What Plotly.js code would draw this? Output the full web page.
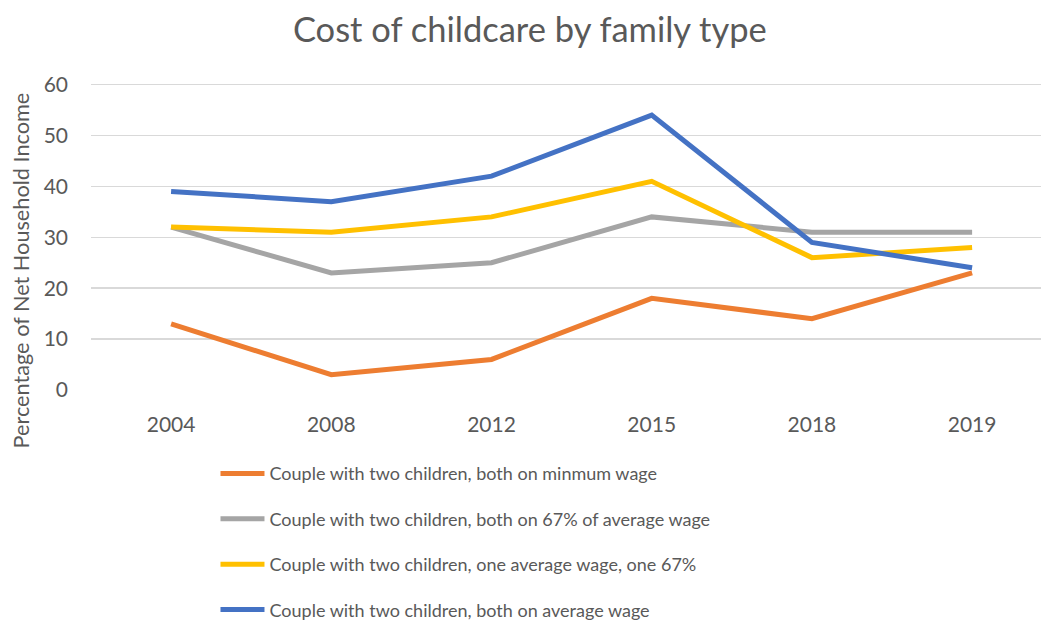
<!DOCTYPE html>
<html>
<head>
<meta charset="utf-8">
<script src="https://cdn.plot.ly/plotly-3.0.1.min.js"></script>
<style>html,body{margin:0;padding:0;background:#fff;}#chart{width:1041px;height:621px;}</style>
</head>
<body>
<div id="chart"></div>
<script>
const years = ['2004', '2008', '2012', '2015', '2018', '2019'];
const seriesNames = [
  'Couple with two children, both on minmum wage',
  'Couple with two children, both on 67% of average wage',
  'Couple with two children, one average wage, one 67%',
  'Couple with two children, both on average wage'
];
const minWage = [13, 3, 6, 18, 14, 23];
const both67 = [32, 23, 25, 34, 31, 31];
const oneAvgOne67 = [32, 31, 34, 41, 26, 28];
const bothAvg = [39, 37, 42, 54, 29, 24];
const yTicks = [0, 10, 20, 30, 40, 50, 60];

const colors = ['#ED7D31', '#A5A5A5', '#FFC000', '#4472C4'];
const values = [minWage, both67, oneAvgOne67, bothAvg];
const FONT = 'Lato, "Open Sans", sans-serif';
const TXT = '#595959';

const traces = values.map((v, i) => ({
  type: 'scatter', mode: 'lines', x: years, y: v, name: seriesNames[i],
  legendgroup: 'g' + i,
  line: {color: colors[i], width: 5}
}));

const layout = {
  width: 1041, height: 621,
  margin: {l: 91, r: 0, t: 83, b: 231, autoexpand: false},
  paper_bgcolor: '#fff', plot_bgcolor: '#fff',
  font: {family: FONT, color: TXT},
  title: {text: 'Cost of childcare by family type', font: {family: FONT, size: 34.5, color: TXT}, x: 0.509, xanchor: 'center', y: 0.952, yanchor: 'middle'},
  xaxis: {type: 'category', range: [-0.5, 5.43], showgrid: false, zeroline: false, showline: false, ticks: '',
    tickfont: {size: 21, color: TXT}, ticklabelstandoff: 20, fixedrange: true},
  yaxis: {range: [0, 60.3], tickvals: yTicks, showgrid: true, gridcolor: '#D9D9D9', gridwidth: 1.5,
    zeroline: false, showline: false, ticks: '', tickfont: {size: 21, color: TXT}, ticklabelstandoff: 22},
  showlegend: true,
  legend: {orientation: 'v', x: 0.207, xref: 'container', y: 0.267, yref: 'container', xanchor: 'left', yanchor: 'top',
    font: {size: 18, color: TXT, family: FONT}, tracegroupgap: 19, itemwidth: 44, bgcolor: 'rgba(0,0,0,0)'},
  annotations: [{
    text: 'Percentage of Net Household Income', textangle: -90,
    xref: 'paper', yref: 'paper', x: -0.0735, xanchor: 'center', y: 0.39, yanchor: 'middle',
    showarrow: false, font: {size: 21.7, color: TXT, family: FONT}
  }]
};

Plotly.newPlot('chart', traces, layout, {displayModeBar: false, staticPlot: true});
</script>
</body>
</html>
